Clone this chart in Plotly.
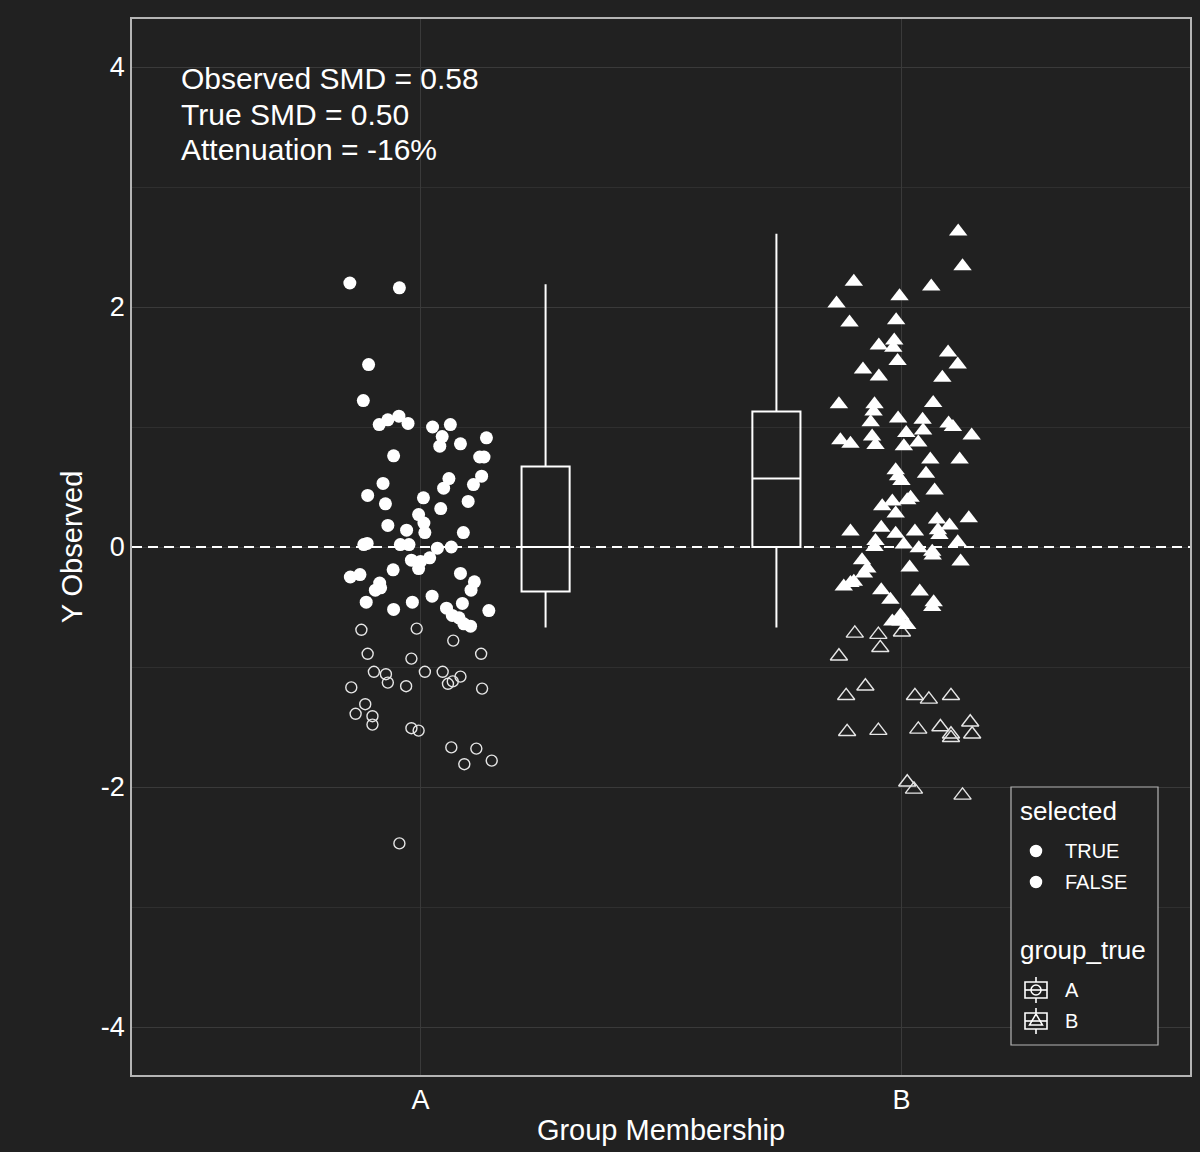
import plotly.graph_objects as go

# ---------------- data ----------------
groups = ["A", "B"]

# Group A, selected == TRUE  (horizontal jitter in category units, y value)
a_sel_jit = [-0.147, -0.044, -0.108, -0.119, -0.086, -0.068, -0.045, -0.026, 0.025, 0.062,
             0.045, 0.040, 0.083, 0.137, -0.056, 0.123, 0.132, -0.078, 0.059, 0.048,
             0.127, 0.110, -0.110, 0.006, -0.073, 0.042, 0.099, -0.004, 0.007, -0.068,
             -0.029, 0.009, 0.089, -0.118, -0.111, -0.042, -0.024, 0.035, 0.064, -0.019,
             0.000, 0.019, -0.004, -0.057, -0.146, -0.126, 0.083, -0.085, 0.112, -0.094,
             -0.083, 0.105, -0.113, -0.017, 0.024, -0.056, 0.054, 0.087, 0.142, 0.066,
             0.080, 0.090, 0.104]
a_sel_y = [2.20, 2.16, 1.52, 1.22, 1.02, 1.06, 1.09, 1.03, 1.00, 1.02,
           0.92, 0.84, 0.86, 0.91, 0.76, 0.75, 0.75, 0.53, 0.57, 0.49,
           0.59, 0.52, 0.43, 0.41, 0.36, 0.32, 0.38, 0.27, 0.20, 0.18,
           0.14, 0.12, 0.12, 0.02, 0.03, 0.02, 0.02, -0.01, 0.00, -0.11,
           -0.12, -0.09, -0.18, -0.19, -0.25, -0.23, -0.22, -0.30, -0.29, -0.36,
           -0.34, -0.36, -0.46, -0.46, -0.41, -0.52, -0.51, -0.47, -0.53, -0.57,
           -0.59, -0.64, -0.66]

# Group A, selected == FALSE
a_uns_jit = [-0.123, -0.008, 0.068, -0.110, -0.019, 0.126, -0.097, -0.072, -0.068, 0.009,
             0.046, 0.083, 0.067, 0.057, -0.144, -0.030, 0.128, -0.115, -0.135, -0.100,
             -0.100, -0.019, -0.004, 0.064, 0.116, 0.091, 0.148, -0.044]
a_uns_y = [-0.69, -0.68, -0.78, -0.89, -0.93, -0.89, -1.04, -1.06, -1.13, -1.04,
           -1.04, -1.08, -1.12, -1.14, -1.17, -1.16, -1.18, -1.31, -1.39, -1.41,
           -1.48, -1.51, -1.53, -1.67, -1.68, -1.81, -1.78, -2.47]

# Group B, selected == TRUE
b_sel_jit = [0.118, 0.127, -0.099, 0.062, -0.004, -0.135, -0.108, -0.011, -0.047, -0.015,
             -0.017, -0.008, 0.097, 0.117, -0.080, -0.047, 0.085, -0.130, -0.056, 0.066,
             -0.058, -0.064, -0.007, 0.044, 0.098, 0.107, 0.146, -0.127, -0.106, -0.061,
             -0.054, 0.010, 0.045, 0.005, 0.035, 0.060, 0.121, -0.012, -0.007, 0.000,
             0.051, 0.069, -0.040, -0.019, -0.012, 0.012, 0.019, 0.140, 0.074, 0.100,
             -0.106, -0.042, -0.012, 0.028, 0.079, 0.076, -0.054, -0.056, 0.005, 0.117,
             0.036, 0.064, 0.065, 0.123, -0.082, -0.071, -0.078, 0.017, -0.120, -0.106,
             -0.099, -0.042, 0.038, -0.023, 0.067, 0.064, -0.002, -0.019, 0.012, -0.002]
b_sel_y = [2.63, 2.34, 2.21, 2.17, 2.09, 2.03, 1.87, 1.89, 1.68, 1.72,
           1.66, 1.55, 1.62, 1.52, 1.48, 1.42, 1.41, 1.19, 1.19, 1.20,
           1.13, 1.04, 1.07, 1.06, 1.03, 1.00, 0.93, 0.89, 0.86, 0.92,
           0.85, 0.95, 0.97, 0.84, 0.87, 0.73, 0.73, 0.64, 0.59, 0.55,
           0.61, 0.47, 0.34, 0.38, 0.28, 0.39, 0.41, 0.24, 0.23, 0.18,
           0.13, 0.16, 0.11, 0.13, 0.10, 0.14, 0.05, 0.00, 0.02, 0.04,
           -0.01, -0.04, -0.07, -0.12, -0.11, -0.18, -0.22, -0.17, -0.33, -0.30,
           -0.29, -0.36, -0.37, -0.44, -0.46, -0.50, -0.57, -0.62, -0.65, -0.62]

# Group B, selected == FALSE
b_uns_jit = [-0.097, -0.048, 0.001, -0.044, -0.130, -0.075, -0.115, 0.028, 0.057, 0.103,
             -0.113, -0.048, 0.035, 0.081, 0.103, 0.103, 0.143, 0.147, 0.012, 0.026, 0.127]
b_uns_y = [-0.72, -0.73, -0.71, -0.84, -0.91, -1.16, -1.24, -1.24, -1.27, -1.24,
           -1.54, -1.53, -1.52, -1.50, -1.56, -1.59, -1.46, -1.56, -1.96, -2.02, -2.07]

# Boxplot statistics of the selected observations
box_lower = [-0.67, -0.67]
box_q1 = [-0.37, 0.00]
box_median = [0.00, 0.57]
box_q3 = [0.67, 1.13]
box_upper = [2.19, 2.61]

annotation_lines = ["Observed SMD = 0.58", "True SMD = 0.50", "Attenuation = -16%"]
y_ticks = [-4, -2, 0, 2, 4]
y_minor = [-3, -1, 1, 3]

# ---------------- style ----------------
BG = "#212121"
GRID = "#3a3a3a"
GRID_MINOR = "#2f2f2f"
BORDER = "#b5b5b5"
FONT = "Liberation Sans, Arial, Helvetica, sans-serif"
BOX_DODGE = [0.26, -0.26]

fig = go.Figure()


def add_points(jit, yv, gi, symbol, size, open_marker):
    xs = [gi + j for j in jit]
    if open_marker:
        marker = dict(symbol=symbol, size=size, color="#e6e6e6",
                      line=dict(color="#e6e6e6", width=1.4))
    else:
        marker = dict(symbol=symbol, size=size, color="white", line=dict(width=0))
    fig.add_trace(go.Scatter(x=xs, y=yv, mode="markers", marker=marker,
                             showlegend=False, hoverinfo="skip"))


add_points(a_uns_jit, a_uns_y, 0, "circle-open", 11, True)
add_points(a_sel_jit, a_sel_y, 0, "circle", 13, False)
add_points(b_uns_jit, b_uns_y, 1, "triangle-up-open", 15, True)
add_points(b_sel_jit, b_sel_y, 1, "triangle-up", 16, False)

for gi, g in enumerate(groups):
    fig.add_trace(go.Box(
        x=[gi + BOX_DODGE[gi]], q1=[box_q1[gi]], median=[box_median[gi]],
        q3=[box_q3[gi]], lowerfence=[box_lower[gi]], upperfence=[box_upper[gi]],
        width=0.1, whiskerwidth=0, boxpoints=False,
        line=dict(color="white", width=2), fillcolor="rgba(0,0,0,0)",
        showlegend=False, hoverinfo="skip", name=g))

# dashed reference line at 0
fig.add_shape(type="line", xref="paper", x0=0, x1=1, yref="y", y0=0, y1=0,
              line=dict(color="white", width=2, dash="10px,6px"), layer="above")

# ---------------- layout ----------------
X0, X1 = -0.6, 1.6
Y0, Y1 = -4.4, 4.4
ML, MR, MT, MB = 132, 10, 19, 77
W, H = 1200, 1152
PW, PH = W - ML - MR, H - MT - MB


def px_to_paper(px, py):
    return (px - ML) / PW, (H - MB - py) / PH


for i, line in enumerate(annotation_lines):
    ax, ay = px_to_paper(179, 78 + 36 * i)
    fig.add_annotation(x=ax, y=ay, xref="paper", yref="paper", text=line,
                       showarrow=False, xanchor="left", yanchor="middle",
                       font=dict(size=30, color="white", family=FONT))

# ---- manual legend ----
lx0, ly0 = px_to_paper(1011, 1045)
lx1, ly1 = px_to_paper(1158, 787)
fig.add_shape(type="rect", xref="paper", yref="paper", x0=lx0, x1=lx1, y0=ly0, y1=ly1,
              line=dict(color=BORDER, width=1.2), fillcolor=BG, layer="above")


def legend_text(px, py, text, size):
    x, y = px_to_paper(px, py)
    fig.add_annotation(x=x, y=y, xref="paper", yref="paper", text=text, showarrow=False,
                       xanchor="left", yanchor="middle",
                       font=dict(size=size, color="white", family=FONT))


legend_text(1018, 811, "selected", 26)
legend_text(1063, 851, "TRUE", 20)
legend_text(1063, 882, "FALSE", 20)
legend_text(1018, 950, "group_true", 26)
legend_text(1063, 990, "A", 20)
legend_text(1063, 1021, "B", 20)


def paper_circle(cx, cy, r, filled):
    x0, y0 = px_to_paper(cx - r, cy + r)
    x1, y1 = px_to_paper(cx + r, cy - r)
    fig.add_shape(type="circle", xref="paper", yref="paper", x0=x0, x1=x1, y0=y0, y1=y1,
                  line=dict(color="white", width=1.5),
                  fillcolor="white" if filled else "rgba(0,0,0,0)", layer="above")


paper_circle(1036, 851, 5.5, True)
paper_circle(1036, 882, 5.5, True)


def legend_box_icon(cy, glyph):
    cx = 1036
    bx0, by0 = px_to_paper(cx - 11, cy + 8)
    bx1, by1 = px_to_paper(cx + 11, cy - 8)
    fig.add_shape(type="rect", xref="paper", yref="paper", x0=bx0, x1=bx1, y0=by0, y1=by1,
                  line=dict(color="white", width=1.6), layer="above")
    for (ax0, ay0, ax1, ay1) in [(cx - 11, cy, cx + 11, cy), (cx, cy - 13, cx, cy - 8),
                                 (cx, cy + 8, cx, cy + 13)]:
        p0 = px_to_paper(ax0, ay0)
        p1 = px_to_paper(ax1, ay1)
        fig.add_shape(type="line", xref="paper", yref="paper", x0=p0[0], y0=p0[1],
                      x1=p1[0], y1=p1[1], line=dict(color="white", width=1.6), layer="above")
    if glyph == "circle":
        paper_circle(cx, cy, 5, False)
    else:
        pts = [px_to_paper(cx - 6.5, cy + 4), px_to_paper(cx + 6.5, cy + 4),
               px_to_paper(cx, cy - 7)]
        path = "M {} {} L {} {} L {} {} Z".format(pts[0][0], pts[0][1], pts[1][0], pts[1][1],
                                                  pts[2][0], pts[2][1])
        fig.add_shape(type="path", xref="paper", yref="paper", path=path,
                      line=dict(color="white", width=1.5), layer="above")


legend_box_icon(990, "circle")
legend_box_icon(1021, "triangle")

fig.update_layout(
    width=W, height=H, paper_bgcolor=BG, plot_bgcolor=BG,
    margin=dict(l=ML, r=MR, t=MT, b=MB, autoexpand=False),
    showlegend=False,
    font=dict(family=FONT, color="white"),
)
fig.update_xaxes(
    range=[X0, X1], tickmode="array", tickvals=list(range(len(groups))), ticktext=groups,
    showgrid=True, gridcolor=GRID, gridwidth=1.2, zeroline=False,
    showline=True, mirror=True, linecolor=BORDER, linewidth=1.5,
    ticks="", tickfont=dict(size=27, color="white"),
    title=dict(text="Group Membership", font=dict(size=29, color="white"), standoff=6),
    automargin=False,
)
fig.update_yaxes(
    range=[Y0, Y1], tickmode="array", tickvals=y_ticks, ticktext=[str(v) for v in y_ticks],
    showgrid=True, gridcolor=GRID, gridwidth=1.2, zeroline=False,
    minor=dict(tickmode="array", tickvals=y_minor, showgrid=True, gridcolor=GRID_MINOR,
               gridwidth=1, ticks=""),
    showline=True, mirror=True, linecolor=BORDER, linewidth=1.5,
    ticks="", tickfont=dict(size=27, color="white"),
    title=dict(text="Y Observed", font=dict(size=29, color="white"), standoff=10),
    automargin=False,
)

fig.write_html(
    "out.html",
    config={"displayModeBar": False},
    post_script="document.body.style.margin='0';document.body.style.background='#212121';",
)
